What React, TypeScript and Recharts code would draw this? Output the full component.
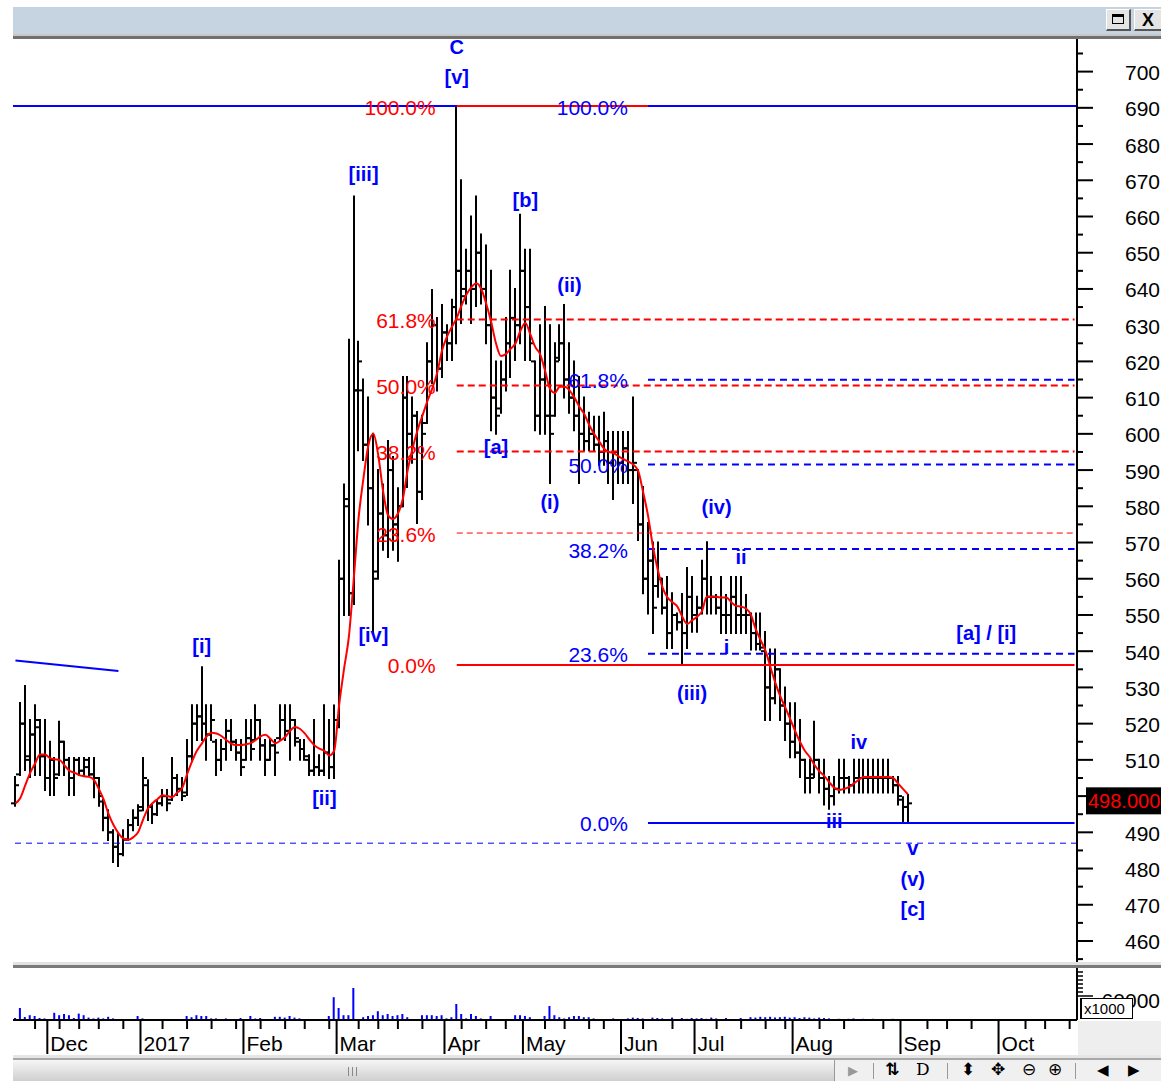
import React from 'react';
import { ComposedChart, Bar, Line, XAxis, YAxis, ReferenceLine, ReferenceDot } from 'recharts';

const FONT = '"Liberation Sans", Arial, sans-serif';
const BLUE = '#0000ff';
const RED = '#ff0000';

// ---------- price data (one entry per trading day) ----------
const HIGH = [
  505.3, 525.7, 530.4, 521, 525.1, 521, 521, 515, 510.5, 520.5,
  515, 510.5, 510.5, 510.5, 510.5, 510.5, 510.5, 505, 498.9, 496.1,
  490.6, 489.5, 490.6, 493.4, 496.1, 497.5, 510.5, 504.4, 497.5, 498.9,
  501.7, 501.7, 510.5, 505.8, 505, 515.5, 525.1, 525.1, 535.6, 525.1,
  525.1, 515.5, 515.5, 521, 521, 515.5, 515.5, 521, 521, 525.1,
  521, 515.5, 515.5, 515.5, 525.1, 525.1, 525.1, 521, 515.5, 515.5,
  511.3, 521, 511.3, 525.1, 521, 525,
  565, 586, 626, 665.5,
  625.4, 615, 610, 600, 590, 586, 598, 593.6, 585, 615.7,
  615.7, 610, 606, 605, 625, 639.7, 632, 635.6, 630, 637,
  690.5, 670, 650.8, 660, 665.5, 655, 652, 645, 620, 620,
  632, 645, 640, 660.5, 650.8, 650.8, 620, 630, 635, 630,
  625, 630, 635.6, 625, 620, 615.7, 610, 605.8, 604.7, 604.7,
  605.8, 600.5, 600.5, 600.5, 600.5, 600.5, 610, 590, 585.3, 575.4,
  570, 570, 560, 560.5, 556, 550.4, 555.8, 563, 560.5, 555,
  565, 570.1, 560.5, 555.5, 560.5, 555.5, 560.5, 560.5, 560.5, 555.5,
  550.4, 550.4, 550.4, 545.3, 540.5, 540.5, 535, 530, 525.6, 525.6,
  521, 510, 510, 520.5, 510, 510, 505.3, 505.3, 510, 510,
  505.3, 510, 510, 510, 510, 510, 510, 510, 510, 505.3,
  505.3, 499.7, 500.3,
];
const LOW = [
  497.3, 505.8, 507.2, 505.3, 505.8, 505.8, 501.7, 500.3, 500.3, 505.8,
  505.8, 500.3, 500.3, 505.8, 505.8, 505.8, 499.7, 497.3, 490.6, 487.9,
  481.8, 480.7, 483.7, 487.9, 490.6, 492, 496.1, 493.4, 492.6, 494.8,
  497.5, 496.1, 498.9, 500.3, 498.9, 500.3, 510, 515.5, 515.5, 510,
  515.5, 505.8, 507.2, 510, 512.7, 510, 505.8, 510, 510, 515.5,
  510, 505.8, 510, 505.8, 515.5, 515.5, 510, 514, 510, 510,
  505.8, 505.8, 505.8, 505.8, 505, 505,
  519, 550, 550, 553,
  595.5, 592.8, 575, 545, 560, 568, 566, 568, 565, 580,
  585.3, 592, 575.4, 582, 603, 614, 612, 615.7, 620.4, 620.4,
  625, 630.6, 636, 630.6, 635.3, 636, 625, 601, 600, 605.8,
  612, 615.7, 620.4, 625, 620.4, 620.4, 601, 600, 600, 586.4,
  605, 620.4, 610, 605.8, 601, 586.4, 595.5, 595.5, 595.5, 591.5,
  591.5, 586.4, 582, 586.4, 586.4, 586.4, 580.9, 570.7, 556, 550.4,
  545, 555, 550.4, 540.9, 540.9, 546, 536.2, 540.9, 545.4, 545.4,
  550.4, 550.4, 550.4, 550.4, 545, 545, 545, 545, 545, 545,
  540.5, 540.5, 540.5, 521, 521, 525.6, 521, 515.5, 510.7, 510.7,
  505.3, 501, 501, 505.3, 501, 497.7, 496.5, 497.7, 501, 501,
  501, 501, 501, 501, 501, 501, 501, 501, 501, 501,
  497.7, 492.6, 492.6,
];
const OPEN = [
  498, 506, 520, 510, 517, 519, 511, 505, 510, 506,
  515, 510, 505, 510, 507, 508, 506, 505, 498.5, 494,
  490, 486, 484, 488, 492, 494, 497, 503, 497, 495,
  498, 500, 499, 505, 502, 501, 511, 520, 522, 520,
  517, 515, 510, 513, 518, 515, 512, 510, 516, 515.5,
  521, 514, 510, 514, 516, 521, 518, 521, 515, 513,
  510, 507, 508, 507, 512, 508,
  521, 560, 580, 556,
  612, 612, 597, 585, 562, 578, 572, 590, 575, 580,
  610, 600, 605, 584, 603, 620, 630, 618, 628, 625,
  635, 645, 640, 645, 640, 650, 640, 630, 610, 607,
  615, 625, 632, 630, 645, 635, 620, 605, 615, 605,
  605, 621, 625, 615, 610, 605, 600, 598, 600, 597,
  595, 598, 592, 595, 592, 596, 590, 590, 575, 560,
  565, 558, 560, 552, 545, 550, 548, 545, 555, 550,
  552, 560, 555, 555, 552, 550, 550, 555, 550, 550,
  550, 545, 542, 540, 530, 527, 535, 525, 520, 515,
  512, 510, 505, 506, 510, 505, 502, 500, 502, 505,
  505, 503, 505, 505, 505, 505, 505, 505, 505, 505,
  503, 499, 497,
];
const CLOSE = [
  503, 520, 511, 517, 521, 511, 505, 510, 505, 515,
  510, 505, 510, 507, 510, 506, 505, 500, 494, 490,
  486, 484, 488, 492, 494, 496, 505, 497, 495, 498,
  500, 498, 505, 502, 500, 511, 520, 522, 520, 517,
  521, 510, 513, 518, 515, 512, 508, 516, 513, 521,
  514, 510, 514, 512, 521, 518, 521, 516, 513, 511,
  507, 508, 507, 512, 508, 521,
  560, 582, 556, 612,
  620, 597, 585, 560, 578, 572, 590, 575, 580, 610,
  600, 605, 584, 600, 620, 630, 618, 628, 625, 635,
  645, 638, 645, 640, 650, 640, 630, 610, 605, 615,
  625, 632, 630, 645, 635, 625, 605, 615, 605, 600,
  620, 625, 615, 610, 605, 600, 598, 600, 597, 595,
  598, 592, 595, 592, 596, 590, 592, 575, 560, 565,
  552, 560, 552, 545, 550, 548, 545, 555, 550, 552,
  560, 555, 555, 552, 550, 550, 555, 550, 550, 550,
  545, 542, 541, 530, 527, 535, 525, 520, 515, 512,
  510, 505, 505, 510, 505, 502, 500, 502, 505, 505,
  503, 505, 505, 505, 505, 505, 505, 505, 505, 503,
  500, 497, 498,
];
// moving average as drawn (red line)
const MA = [
  498, 499.5, 503, 506.4, 509, 511.5, 511.5, 510.5, 510.2, 510,
  508.5, 507, 506.5, 505.8, 505.5, 505.3, 504.5, 502, 499, 495,
  492, 489.8, 488.3, 487.9, 488.6, 490, 493.4, 496.5, 498.1, 499.2,
  500.2, 500, 499.7, 501, 502.2, 506, 509.5, 512.5, 514.5, 516.5,
  517.5, 517.3, 516.6, 515.5, 514.5, 514.1, 514.1, 514.3, 514.6, 515.5,
  516.5, 516.9, 515.8, 514.6, 515.3, 516.3, 518, 519.1, 518.6, 517.3,
  515.5, 514, 513.1, 512.5, 511.2, 512.5,
  525, 535, 544, 560,
  577, 588, 597, 600, 594, 584, 577.5, 576.5, 578, 582,
  590, 596, 601, 605, 609, 612.5, 616.8, 623, 626.8, 629.5,
  632, 635.5, 638.5, 640.5, 641.6, 640, 636, 631, 625, 621.5,
  622, 623.5, 625, 628.5, 630.6, 627.5, 624, 622, 617.5, 612.5,
  611.3, 613, 613, 612, 610, 607.5, 605.5, 602.5, 600, 598,
  596, 595, 594.7, 593.8, 593, 592.3, 591.5, 589.8, 584, 577.5,
  569, 562.5, 557.5, 554.8, 553.5, 552.3, 549.5, 547.5, 548.5, 549.5,
  551, 555, 555, 555, 554.8, 554.8, 553.5, 552.5, 552.3, 551.8,
  550, 546, 543, 540, 535.5, 531.2, 527.5, 524.5, 521.3, 518,
  515, 512.5, 510.8, 508.5, 506.8, 505.5, 503.8, 502.3, 501.7, 502,
  502.5, 503.5, 504.5, 505.3, 505.3, 505.3, 505.3, 505.3, 505.3, 505,
  503.5, 502, 500.5,
];
// volume, in thousands
const VOLUME = [
  5000, 30000, 7500, 12000, 10000, 5000, 4000, 0, 18000, 12000,
  15000, 12000, 5000, 16000, 12000, 6000, 4000, 6000, 4000, 8000,
  4000, 0, 0, 0, 0, 10000, 4000, 0, 0, 0,
  0, 0, 0, 0, 0, 10000, 7000, 12000, 10000, 10000,
  4000, 4000, 0, 4000, 0, 0, 5000, 0, 10000, 4000,
  5000, 0, 0, 8000, 8000, 6000, 10000, 6000, 4000, 0,
  0, 0, 0, 0, 10000, 57000,
  30000, 12000, 12000, 80000,
  0, 7000, 10000, 12000, 22000, 12000, 15000, 10000, 12000, 15000,
  7000, 0, 0, 12000, 12000, 12000, 10000, 12000, 4000, 7000,
  40000, 15000, 4000, 15000, 10000, 4000, 0, 10000, 2000, 0,
  2000, 0, 12000, 12000, 10000, 7000, 2000, 0, 10000, 35000,
  12000, 7000, 4000, 7000, 10000, 10000, 7000, 7000, 4000, 0,
  2000, 0, 4000, 0, 0, 4000, 6000, 5000, 4000, 0,
  6000, 5000, 4000, 0, 6000, 0, 5000, 3000, 5000, 4000,
  5000, 3000, 6000, 4000, 0, 5000, 0, 0, 5000, 0,
  7000, 6000, 8000, 7000, 8000, 6000, 7000, 8000, 6000, 7000,
  5000, 7000, 6000, 4000, 6000, 5000, 4000, 0, 3000, 0,
  3000, 4000, 0, 3000, 0, 3000, 0, 0, 0, 3000,
  0, 0, 0,
];

// ---------- axes ----------
const SLOT_COUNT = 217; // trading-day slots shown (incl. empty future)
const MONTH_LABELS = ['Dec', '2017', 'Feb', 'Mar', 'Apr', 'May', 'Jun', 'Jul', 'Aug', 'Sep', 'Oct'];
const MONTH_SLOTS = [7, 26, 47, 66, 88, 104, 124, 139, 159, 181, 201];
const WEEK_SLOTS = [4, 9, 13, 17, 22, 30, 35, 40, 45, 50, 55, 59, 64, 70, 74, 78, 83, 91, 96, 100, 108, 112, 117, 120, 128, 134, 143, 148, 153, 157, 164, 169, 177, 186, 190, 195, 206, 210, 215];
const PRICE_TICKS = [
  455, 460, 465, 470, 475, 480, 485, 490, 495, 500, 505, 510, 515, 520, 525, 530, 535, 540, 545, 550,
  555, 560, 565, 570, 575, 580, 585, 590, 595, 600, 605, 610, 615, 620, 625, 630, 635, 640, 645, 650,
  655, 660, 665, 670, 675, 680, 685, 690, 695, 700, 705,
];
const PRICE_DOMAIN = [454.2, 709.0];
const VOLUME_TICKS = [60000, 70000, 80000, 90000, 100000, 110000, 120000];
const VOLUME_LABEL_TICK = 60000;
const VOLUME_DOMAIN = [0, 130000];

// ---------- drawing tools ----------
const FIB_RATIOS = [0, 0.236, 0.382, 0.5, 0.618, 1];
const RED_FIB = { low: 536.2, high: 690.5, fromSlot: 90, topToSlot: 129 };
const BLUE_FIB = { low: 492.6, high: 690.5, fromSlot: 129 };
const SUPPORT_LEVEL = 487;
const TREND_SLOTS = [0, 21];
const TREND_VALUES = [537.4, 534.5];

const WAVE_TEXT = ['C', '[v]', '[iii]', '[b]', '(ii)', '[a]', '(i)', '[iv]', '[i]', '[ii]', '(iv)', 'ii', 'i', '(iii)', '[a] / [i]', 'iv', 'iii', 'v', '(v)', '[c]'];
const WAVE_SLOT = [90, 90, 71, 104, 113, 98, 109, 73, 38, 63, 143, 148, 145, 138, 198, 172, 167, 183, 183, 183];
const WAVE_VALUE = [706.8, 698.5, 671.7, 664.6, 641.1, 596.4, 581.2, 544.5, 541.4, 499.5, 579.8, 566, 541.2, 528.5, 545, 514.9, 493.1, 485.7, 477.1, 468.8];

// ---------- layout ----------
const W = 1161;
const LEFT = 13;
const AXIS_W = 84;
const PLOT_W = W - LEFT - AXIS_W;
const BAND = PLOT_W / SLOT_COUNT;
const LAST = SLOT_COUNT - 1;
const LABEL_RIGHT = 83; // right edge of axis labels, from the axis line

const data = Array.from({ length: SLOT_COUNT }, (_, i) => {
  const has = i < HIGH.length;
  const t = TREND_SLOTS.indexOf(i);
  return {
    i,
    range: has ? [LOW[i], HIGH[i]] : null,
    high: has ? HIGH[i] : null,
    low: has ? LOW[i] : null,
    open: has ? OPEN[i] : null,
    close: has ? CLOSE[i] : null,
    ma: has ? MA[i] : null,
    vol: has ? VOLUME[i] : null,
    trend: t >= 0 ? TREND_VALUES[t] : null,
  };
});

const LAST_CLOSE = CLOSE[CLOSE.length - 1];

const OhlcBar = (props: any) => {
  const { x, y, width, height, payload } = props;
  if (!payload || payload.high == null || x == null || y == null || isNaN(y)) return <g />;
  const top = Math.min(y, y + height);
  const bottom = Math.max(y, y + height);
  const cx = Math.round(x + width / 2);
  const span = payload.high - payload.low || 1;
  const at = (v: number) => top + ((payload.high - v) / span) * (bottom - top);
  const yo = at(payload.open);
  const yc = at(payload.close);
  return (
    <g>
      <line x1={cx} x2={cx} y1={top - 1} y2={bottom + 1} stroke="#000" strokeWidth={2} />
      <line x1={cx - 4} x2={cx} y1={yo} y2={yo} stroke="#000" strokeWidth={2} />
      <line x1={cx} x2={cx + 4} y1={yc} y2={yc} stroke="#000" strokeWidth={2} />
    </g>
  );
};

const PriceTick = (props: any) => {
  const { x, y, payload } = props;
  const v = payload.value;
  const major = v % 10 === 0;
  // the last-price box covers the label nearest the last close
  const covered = Math.abs(v - LAST_CLOSE) < 5;
  return (
    <g>
      <line x1={x} x2={x + (major ? 16 : 6)} y1={y} y2={y} stroke="#000" strokeWidth={2} />
      {major && !covered && (
        <text x={x + LABEL_RIGHT} y={y + 1} textAnchor="end" dominantBaseline="central" fontFamily={FONT} fontSize={21} fill="#000">
          {v}
        </text>
      )}
    </g>
  );
};

const VolumeTick = (props: any) => {
  const { x, y, payload } = props;
  const major = payload.value === VOLUME_LABEL_TICK;
  return (
    <g>
      <line x1={x} x2={x + (major ? 16 : 6)} y1={y} y2={y} stroke="#000" strokeWidth={1.5} />
      {major && (
        <text x={x + LABEL_RIGHT} y={y + 4} textAnchor="end" dominantBaseline="central" fontFamily={FONT} fontSize={21} fill="#000">
          {payload.value}
        </text>
      )}
    </g>
  );
};

const DateTick = (props: any) => {
  const { x, y, payload } = props;
  const m = MONTH_SLOTS.indexOf(payload.value);
  if (m >= 0) {
    const lx = x - BAND / 2;
    return (
      <g>
        <line x1={lx} x2={lx} y1={y} y2={y + 34} stroke="#000" strokeWidth={2} />
        <text x={lx + 3} y={y + 23} dominantBaseline="central" fontFamily={FONT} fontSize={21} fill="#000">
          {MONTH_LABELS[m]}
        </text>
      </g>
    );
  }
  return <line x1={x} x2={x} y1={y} y2={y + 9} stroke="#000" strokeWidth={2} />;
};

const FibLabel = (props: any) => {
  const vb = props.viewBox;
  if (!vb) return null;
  return (
    <text x={vb.x - props.gap} y={vb.y + 1} textAnchor="end" dominantBaseline="central" fill={props.color} fontFamily={FONT} fontSize={21}>
      {props.text}
    </text>
  );
};

const LastPriceLabel = (props: any) => {
  const vb = props.viewBox;
  if (!vb) return null;
  const x = vb.x + vb.width + 9;
  return (
    <g>
      <rect x={x} y={vb.y - 16} width={90} height={27} fill="#000" />
      <text x={x + 2} y={vb.y - 2} dominantBaseline="central" fill={RED} fontFamily={FONT} fontSize={20}>
        {props.text}
      </text>
    </g>
  );
};

const WaveLabel = (props: any) => {
  const vb = props.viewBox;
  if (!vb) return null;
  return (
    <text x={vb.x + (vb.width || 0) / 2} y={vb.y + (vb.height || 0) / 2} textAnchor="middle" dominantBaseline="central" fill={BLUE} fontFamily={FONT} fontWeight="bold" fontSize={20}>
      {props.text}
    </text>
  );
};

const pct = (r: number) => `${(r * 100).toFixed(1)}%`;

const fibLines = () => {
  const out: any[] = [];
  FIB_RATIOS.forEach((r) => {
    const v = RED_FIB.low + r * (RED_FIB.high - RED_FIB.low);
    const solid = r === 0 || r === 1;
    const thin = r === 0.236;
    out.push(
      <ReferenceLine
        key={`rf${r}`}
        segment={[{ x: RED_FIB.fromSlot, y: v }, { x: r === 1 ? RED_FIB.topToSlot : LAST, y: v }]}
        stroke={RED}
        strokeWidth={thin ? 1 : 2}
        strokeDasharray={solid ? undefined : thin ? '6 4' : '7 4'}
        label={<FibLabel text={pct(r)} color={RED} gap={21} />}
      />
    );
  });
  FIB_RATIOS.forEach((r) => {
    const v = BLUE_FIB.low + r * (BLUE_FIB.high - BLUE_FIB.low);
    const solid = r === 0 || r === 1;
    out.push(
      <ReferenceLine
        key={`bf${r}`}
        segment={[{ x: BLUE_FIB.fromSlot, y: v }, { x: LAST, y: v }]}
        stroke={BLUE}
        strokeWidth={2}
        strokeDasharray={solid ? undefined : '7 5'}
        label={<FibLabel text={pct(r)} color={BLUE} gap={20} />}
      />
    );
  });
  return out;
};

const Frame = () => (
  <>
    {/* title bar */}
    <div style={{ position: 'absolute', left: LEFT, top: 7, width: W - LEFT, height: 27, background: '#c6d3e0' }} />
    <div style={{ position: 'absolute', left: 1106, top: 9, width: 25, height: 22, background: '#e4e4e4', borderTop: '1px solid #fff', borderLeft: '1px solid #fff', borderRight: '2px solid #555', borderBottom: '2px solid #555', boxSizing: 'border-box' }}>
      <div style={{ position: 'absolute', left: 5, top: 4, width: 12, height: 10, border: '1px solid #000', borderTop: '3px solid #000', boxSizing: 'border-box' }} />
    </div>
    <div style={{ position: 'absolute', left: 1134, top: 9, width: 27, height: 22, background: '#e4e4e4', borderTop: '1px solid #fff', borderLeft: '1px solid #fff', borderBottom: '2px solid #555', boxSizing: 'border-box', fontFamily: FONT, fontWeight: 'bold', fontSize: 18, lineHeight: '20px', textAlign: 'center' }}>X</div>
    <div style={{ position: 'absolute', left: LEFT, top: 34, width: W - LEFT, height: 2, background: '#c8c8c8' }} />
    <div style={{ position: 'absolute', left: LEFT, top: 36, width: W - LEFT, height: 3, background: '#707070' }} />
    {/* panel separator */}
    <div style={{ position: 'absolute', left: LEFT, top: 962, width: W - LEFT, height: 3, background: '#e2e2e2' }} />
    <div style={{ position: 'absolute', left: LEFT, top: 965, width: W - LEFT, height: 3, background: '#7a7a7a' }} />
    {/* right gray area under volume axis */}
    <div style={{ position: 'absolute', left: 1078, top: 1021, width: W - 1078, height: 35, background: '#eeeeee' }} />
    {/* bottom separator & scrollbar */}
    <div style={{ position: 'absolute', left: LEFT, top: 1055, width: W - LEFT, height: 3, background: '#e6e6e6' }} />
    <div style={{ position: 'absolute', left: LEFT, top: 1058, width: W - LEFT, height: 2, background: '#a8a8a8' }} />
    <div style={{ position: 'absolute', left: LEFT, top: 1060, width: 822, height: 21, background: 'linear-gradient(#f6f6f6, #cfcfcf)', borderRight: '1px solid #999', boxSizing: 'border-box' }}>
      <div style={{ position: 'absolute', left: 335, top: 7, width: 1, height: 9, background: '#888' }} />
      <div style={{ position: 'absolute', left: 339, top: 7, width: 1, height: 9, background: '#888' }} />
      <div style={{ position: 'absolute', left: 343, top: 7, width: 1, height: 9, background: '#888' }} />
    </div>
    <div style={{ position: 'absolute', left: 835, top: 1060, width: W - 835, height: 21, background: '#f0f0f0', fontFamily: '"DejaVu Sans", sans-serif', fontSize: 17, color: '#000' }}>
      <span style={{ position: 'absolute', left: 13, top: 0, color: '#999', fontSize: 13, lineHeight: '21px' }}>▶</span>
      <div style={{ position: 'absolute', left: 38, top: 3, width: 1, height: 16, background: '#999' }} />
      <span style={{ position: 'absolute', left: 50, top: -1, fontWeight: 'bold' }}>⇅</span>
      <span style={{ position: 'absolute', left: 81, top: -1, fontFamily: '"DejaVu Serif", serif' }}>D</span>
      <div style={{ position: 'absolute', left: 112, top: 3, width: 1, height: 16, background: '#999' }} />
      <span style={{ position: 'absolute', left: 126, top: -1 }}>⬍</span>
      <span style={{ position: 'absolute', left: 156, top: -1 }}>✥</span>
      <span style={{ position: 'absolute', left: 187, top: -1 }}>⊖</span>
      <span style={{ position: 'absolute', left: 213, top: -1 }}>⊕</span>
      <div style={{ position: 'absolute', left: 240, top: 3, width: 1, height: 16, background: '#999' }} />
      <span style={{ position: 'absolute', left: 262, top: 0, fontSize: 15, lineHeight: '21px' }}>◀</span>
      <span style={{ position: 'absolute', left: 293, top: 0, fontSize: 15, lineHeight: '21px' }}>▶</span>
    </div>
  </>
);

const MAIN_TOP = 29;
const MAIN_PAD = 10; // room above the plot for the top wave labels

export default function App() {
  return (
    <div style={{ position: 'absolute', left: 0, top: 0, width: W, height: 1081, background: '#fff', overflow: 'hidden' }}>
      <Frame />
      <div style={{ position: 'absolute', left: 0, top: MAIN_TOP }}>
        <ComposedChart width={W} height={923 + MAIN_PAD} data={data} margin={{ top: MAIN_PAD, right: 0, bottom: 0, left: LEFT }}>
          <XAxis dataKey="i" type="category" hide />
          <YAxis
            orientation="right"
            type="number"
            domain={PRICE_DOMAIN}
            allowDataOverflow
            ticks={PRICE_TICKS}
            interval={0}
            width={AXIS_W}
            tickSize={0}
            tickMargin={0}
            tickLine={false}
            tick={<PriceTick />}
            axisLine={{ stroke: '#000', strokeWidth: 2 }}
          />
          <ReferenceLine y={SUPPORT_LEVEL} stroke={BLUE} strokeWidth={1} strokeDasharray="6 5" />
          <ReferenceLine y={RED_FIB.high} stroke={BLUE} strokeWidth={2} />
          {fibLines()}
          <Bar dataKey="range" shape={<OhlcBar />} barSize={6} isAnimationActive={false} />
          <Line dataKey="ma" type="monotone" stroke={RED} strokeWidth={2} dot={false} activeDot={false} isAnimationActive={false} />
          <Line dataKey="trend" type="linear" stroke={BLUE} strokeWidth={2} dot={false} activeDot={false} connectNulls isAnimationActive={false} />
          <ReferenceLine y={LAST_CLOSE} stroke="none" label={<LastPriceLabel text={LAST_CLOSE.toFixed(3)} />} />
          {WAVE_TEXT.map((t, k) => (
            <ReferenceDot key={`w${k}`} x={WAVE_SLOT[k]} y={WAVE_VALUE[k]} r={0} fill="none" stroke="none" label={<WaveLabel text={t} />} />
          ))}
        </ComposedChart>
      </div>
      <div style={{ position: 'absolute', left: 0, top: 968 }}>
        <ComposedChart width={W} height={88} data={data} margin={{ top: 0, right: 0, bottom: 0, left: LEFT }}>
          <XAxis
            dataKey="i"
            type="category"
            ticks={[...MONTH_SLOTS, ...WEEK_SLOTS]}
            interval={0}
            height={36}
            tickSize={0}
            tickMargin={0}
            tickLine={false}
            tick={<DateTick />}
            axisLine={{ stroke: '#000', strokeWidth: 2 }}
          />
          <YAxis
            orientation="right"
            type="number"
            domain={VOLUME_DOMAIN}
            allowDataOverflow
            ticks={VOLUME_TICKS}
            interval={0}
            width={AXIS_W}
            tickSize={0}
            tickMargin={0}
            tickLine={false}
            tick={<VolumeTick />}
            axisLine={{ stroke: '#000', strokeWidth: 2 }}
          />
          <Bar dataKey="vol" fill={BLUE} barSize={2} isAnimationActive={false} />
        </ComposedChart>
      </div>
      <div style={{ position: 'absolute', left: 1080, top: 998, width: 53, height: 21, background: '#fff', border: '1px solid #000', borderLeft: '2px solid #000', boxSizing: 'border-box', fontFamily: FONT, fontSize: 15, lineHeight: '19px', paddingLeft: 2 }}>x1000</div>
    </div>
  );
}
